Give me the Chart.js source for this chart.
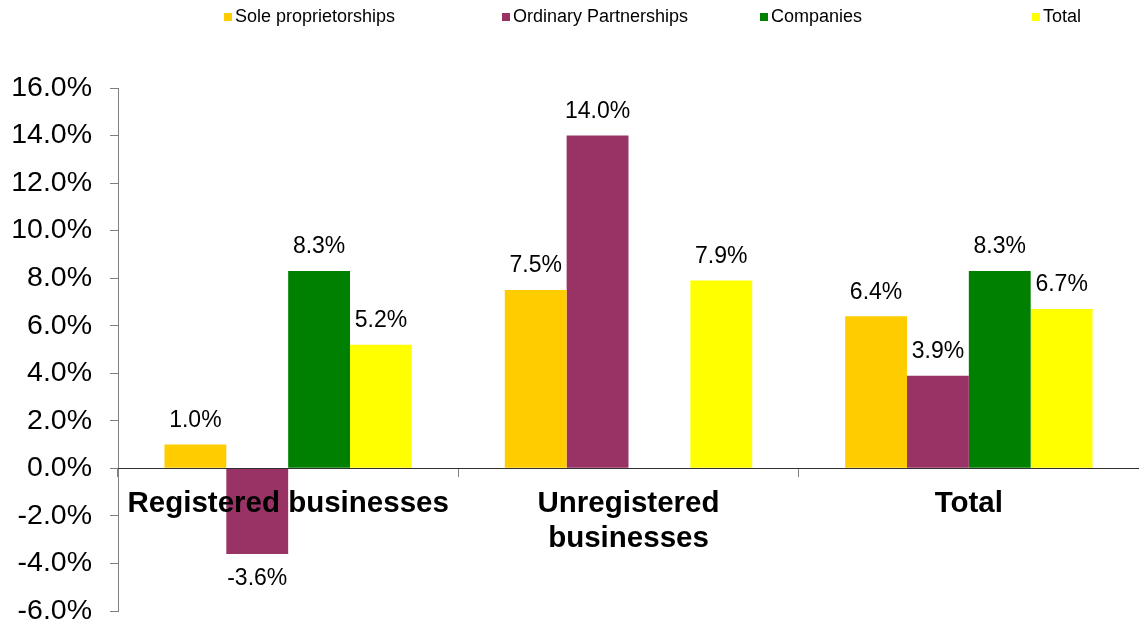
<!DOCTYPE html>
<html>
<head>
<meta charset="utf-8">
<script src="https://cdn.jsdelivr.net/npm/chart.js@4/dist/chart.umd.min.js"></script>
<style>
  html, body { margin: 0; padding: 0; background: #fff; }
  #wrap { width: 1139px; height: 623px; position: relative; }
</style>
</head>
<body>
<div id="wrap"><canvas id="growthChart"></canvas></div>
<script>
const categories = [['Registered businesses'], ['Unregistered', 'businesses'], ['Total']];
const seriesNames = ['Sole proprietorships', 'Ordinary Partnerships', 'Companies', 'Total'];
const soleProps = [1.0, 7.5, 6.4];
const partnerships = [-3.6, 14.0, 3.9];
const companies = [8.3, null, 8.3];
const totals = [5.2, 7.9, 6.7];
const seriesColors = ['#FFCC00', '#993366', '#008000', '#FFFF00'];
const yTicks = [-6, -4, -2, 0, 2, 4, 6, 8, 10, 12, 14, 16];

const FONT = '"Liberation Sans", Arial, sans-serif';
const pct = v => v.toFixed(1) + '%';

// legend across the top, Excel style (uneven gaps)
const topLegend = {
  id: 'topLegend',
  afterDraw(chart) {
    const ctx = chart.ctx;
    const starts = [224, 502, 760, 1032];
    ctx.save();
    ctx.font = '18px ' + FONT;
    ctx.textBaseline = 'middle';
    chart.data.datasets.forEach((ds, i) => {
      const x = starts[i];
      ctx.fillStyle = ds.backgroundColor;
      ctx.fillRect(x, 13, 8, 8);
      ctx.fillStyle = '#000';
      ctx.fillText(ds.label, x + 11, 17);
    });
    ctx.restore();
  }
};

// value labels above (or below) each bar
const valueLabels = {
  id: 'valueLabels',
  afterDatasetsDraw(chart) {
    const ctx = chart.ctx;
    ctx.save();
    ctx.font = '23px ' + FONT;
    ctx.fillStyle = '#000';
    ctx.textAlign = 'center';
    ctx.textBaseline = 'middle';
    chart.data.datasets.forEach((ds, i) => {
      chart.getDatasetMeta(i).data.forEach((bar, j) => {
        const v = ds.data[j];
        if (v === null || v === undefined) return;
        const y = v >= 0 ? bar.y - 24 : bar.y + 25;
        ctx.fillText(pct(v), bar.x, y);
      });
    });
    ctx.restore();
  }
};

const seriesData = [soleProps, partnerships, companies, totals];

new Chart(document.getElementById('growthChart'), {
  type: 'bar',
  data: {
    labels: categories,
    datasets: seriesNames.map((name, i) => ({
      label: name,
      data: seriesData[i],
      backgroundColor: seriesColors[i],
      borderWidth: 0,
      categoryPercentage: 0.727,
      barPercentage: 1.0
    }))
  },
  options: {
    responsive: true,
    maintainAspectRatio: false,
    animation: false,
    layout: { padding: { top: 88, right: 0, bottom: 12, left: 8 } },
    plugins: {
      legend: { display: false },
      tooltip: { enabled: false }
    },
    scales: {
      x: {
        position: { y: 0 },
        grid: {
          offset: true,
          drawOnChartArea: false,
          drawTicks: true,
          tickLength: 8,
          color: '#808080'
        },
        border: { color: '#303030', width: 1, z: 1 },
        ticks: {
          z: 1,
          autoSkip: false,
          maxRotation: 0,
          minRotation: 0,
          padding: 10,
          color: '#000',
          font: { family: FONT, size: 29.5, weight: 'bold', lineHeight: 1.19 }
        }
      },
      y: {
        min: yTicks[0],
        max: yTicks[yTicks.length - 1],
        afterBuildTicks(scale) {
          scale.ticks = yTicks.map(v => ({ value: v }));
        },
        afterFit(scale) {
          scale.width = 110;
          scale.paddingTop = 0;
          scale.paddingBottom = 0;
        },
        grid: {
          drawOnChartArea: false,
          drawTicks: true,
          tickLength: 8,
          color: '#808080'
        },
        border: { color: '#808080', width: 1 },
        ticks: {
          padding: 18,
          color: '#000',
          font: { family: FONT, size: 28.5 },
          callback: v => pct(v)
        }
      }
    }
  },
  plugins: [topLegend, valueLabels]
});
</script>
</body>
</html>
